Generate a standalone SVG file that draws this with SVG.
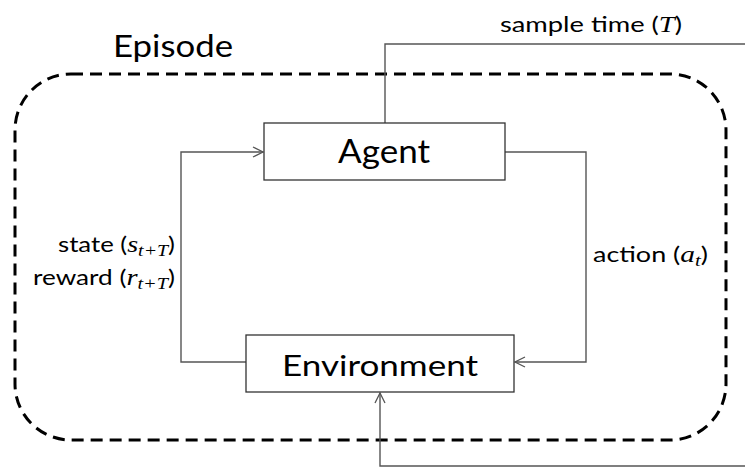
<svg xmlns="http://www.w3.org/2000/svg" width="745" height="468" viewBox="0 0 745 468">
<style>
.t{font-family:Lato,"Liberation Sans",sans-serif;fill:#000}
.m{font-family:"Liberation Serif",serif;font-style:italic}
.box{fill:#fff;stroke:#333;stroke-width:1.3}
.ln{fill:none;stroke:#555;stroke-width:1.4}
</style>
<defs>
<marker id="ah" viewBox="0 0 12 12" refX="11" refY="6" markerWidth="12" markerHeight="12" markerUnits="userSpaceOnUse" orient="auto">
<path d="M1,1 L11,6 L1,11" fill="none" stroke="#555" stroke-width="1.3"/>
</marker>
</defs>
<rect x="15" y="74" width="711" height="366" rx="56" ry="56" fill="none" stroke="#000" stroke-width="3" stroke-dasharray="12 7"/>
<text class="t" x="113" y="57" font-size="30" textLength="120" lengthAdjust="spacingAndGlyphs">Episode</text>
<g id="connectors">
<path class="ln" d="M385,123 V44 H745"/>
<path class="ln" d="M246,362 H181 V152 H263" marker-end="url(#ah)"/>
<path class="ln" d="M505,152 H586 V362 H515" marker-end="url(#ah)"/>
<path class="ln" d="M745,466 H380 V393" marker-end="url(#ah)"/>
</g>
<g id="agent">
<rect class="box" x="264" y="123" width="241" height="57"/>
<text class="t" x="338" y="163" font-size="32" textLength="92" lengthAdjust="spacingAndGlyphs">Agent</text>
</g>
<g id="environment">
<rect class="box" x="246" y="335" width="268" height="57"/>
<text class="t" x="282" y="376" font-size="29" textLength="196" lengthAdjust="spacingAndGlyphs">Environment</text>
</g>
<text class="t" x="500" y="32" font-size="22" textLength="182" lengthAdjust="spacingAndGlyphs">sample time (<tspan class="m" font-size="23">T</tspan>)</text>
<text class="t" x="58" y="252" font-size="22" textLength="117" lengthAdjust="spacingAndGlyphs">state (<tspan class="m" font-size="24">s</tspan><tspan class="m" font-size="17" dy="4">t+T</tspan><tspan dy="-4">)</tspan></text>
<text class="t" x="33" y="285" font-size="22" textLength="142" lengthAdjust="spacingAndGlyphs">reward (<tspan class="m" font-size="24">r</tspan><tspan class="m" font-size="17" dy="4">t+T</tspan><tspan dy="-4">)</tspan></text>
<text class="t" x="593" y="262" font-size="22" textLength="115" lengthAdjust="spacingAndGlyphs">action (<tspan class="m" font-size="24">a</tspan><tspan class="m" font-size="17" dy="4">t</tspan><tspan dy="-4">)</tspan></text>
</svg>
